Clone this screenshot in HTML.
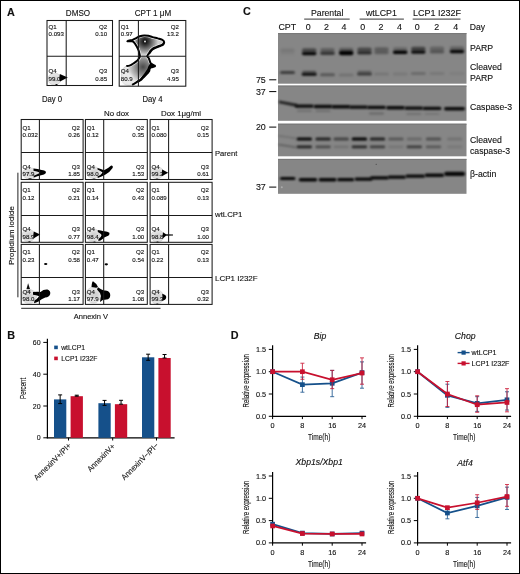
<!DOCTYPE html>
<html><head><meta charset="utf-8"><style>
html,body{margin:0;padding:0;background:#fff;}
svg{display:block;will-change:transform;}
text{font-family:"Liberation Sans", sans-serif;fill:#111;stroke:#111;stroke-width:0.12px;}
</style></head><body>
<svg width="520" height="574" viewBox="0 0 520 574">
<defs><filter id="bl" x="-50%" y="-200%" width="200%" height="500%"><feGaussianBlur stdDeviation="0.85"/></filter><filter id="bl3" x="-50%" y="-200%" width="200%" height="500%"><feGaussianBlur stdDeviation="1.1"/></filter><filter id="bl2" x="-50%" y="-200%" width="200%" height="500%"><feGaussianBlur stdDeviation="0.6"/></filter><filter id="b4" x="-50%" y="-50%" width="200%" height="200%"><feGaussianBlur stdDeviation="0.4"/></filter><filter id="b8" x="-50%" y="-50%" width="200%" height="200%"><feGaussianBlur stdDeviation="1.2"/></filter><radialGradient id="gblob" cx="0.55" cy="0.45" r="0.6"><stop offset="0" stop-color="#d8d8d8"/><stop offset="1" stop-color="#f0f0f0"/></radialGradient><radialGradient id="gup" gradientUnits="userSpaceOnUse" cx="145" cy="41.5" r="13"><stop offset="0" stop-color="#000"/><stop offset="0.35" stop-color="#444"/><stop offset="0.75" stop-color="#999"/><stop offset="1" stop-color="#cfcfcf"/></radialGradient><radialGradient id="glo" gradientUnits="userSpaceOnUse" cx="143" cy="67" r="16"><stop offset="0" stop-color="#4a4a4a"/><stop offset="0.45" stop-color="#8a8a8a"/><stop offset="0.8" stop-color="#c8c8c8"/><stop offset="1" stop-color="#e6e6e6"/></radialGradient></defs>
<rect x="0.5" y="0.5" width="519" height="573" fill="#fff" stroke="#000" stroke-width="1"/>
<text x="7" y="15.5" font-size="10.8" text-anchor="start" font-weight="bold" font-style="normal" stroke="#000" stroke-width="0.55">A</text>
<text transform="translate(78,15.7) scale(0.91,1)" font-size="8.9" text-anchor="middle" >DMSO</text>
<text transform="translate(153,15.7) scale(0.91,1)" font-size="8.9" text-anchor="middle" >CPT 1 μM</text>
<ellipse cx="54.5" cy="79" rx="6.5" ry="6" fill="#e4e4e4" stroke="#c8c8c8" stroke-width="0.6"/>
<ellipse cx="55.5" cy="79" rx="3.575" ry="3.0" fill="#d2d2d2" filter="url(#b8)"/>
<path d="M59.8,74 L67.8,77.4 L60,81.6 Q58.8,77.8 59.8,74 Z" fill="#000" filter="url(#b4)"/>
<path d="M55,84.3 Q56.5,83.5 58,84.3 Q56.5,85.6 55,84.3 Z" fill="#000" filter="url(#b4)"/>
<text x="48.6" y="28.8" font-size="6.1" text-anchor="start" font-weight="normal" font-style="normal" >Q1</text>
<text x="48.6" y="35.8" font-size="6.1" text-anchor="start" font-weight="normal" font-style="normal" >0.093</text>
<text x="107.1" y="28.8" font-size="6.1" text-anchor="end" font-weight="normal" font-style="normal" >Q2</text>
<text x="107.1" y="35.8" font-size="6.1" text-anchor="end" font-weight="normal" font-style="normal" >0.10</text>
<text x="48.6" y="73.3" font-size="6.1" text-anchor="start" font-weight="normal" font-style="normal" >Q4</text>
<text x="48.6" y="80.5" font-size="6.1" text-anchor="start" font-weight="normal" font-style="normal" >99.0</text>
<text x="107.1" y="73.3" font-size="6.1" text-anchor="end" font-weight="normal" font-style="normal" >Q3</text>
<text x="107.1" y="80.5" font-size="6.1" text-anchor="end" font-weight="normal" font-style="normal" >0.85</text>
<rect x="47" y="20.5" width="65.5" height="65.0" fill="none" stroke="#1a1a1a" stroke-width="1.05"/>
<line x1="66.2" y1="20.5" x2="66.2" y2="85.5" stroke="#1a1a1a" stroke-width="1.05"/>
<line x1="47" y1="56.2" x2="112.5" y2="56.2" stroke="#1a1a1a" stroke-width="1.05"/>
<path d="M147.2,56.2 C148.08,56.43 148.35,57.33 148.8,58.2 C149.25,59.07 149.55,60.52 149.9,61.4 C150.25,62.28 150.30,62.90 150.9,63.5 C151.50,64.10 152.80,64.57 153.5,65 C154.20,65.43 155.27,65.75 155.1,66.1 C154.93,66.45 153.28,66.83 152.5,67.1 C151.72,67.37 150.93,67.27 150.4,67.7 C149.87,68.13 149.83,68.83 149.3,69.7 C148.77,70.57 148.07,71.85 147.2,72.9 C146.33,73.95 145.13,74.95 144.1,76 C143.07,77.05 142.05,78.32 141,79.2 C139.95,80.08 138.85,80.62 137.8,81.3 C136.75,81.98 135.65,82.70 134.7,83.3 C133.75,83.90 132.97,84.55 132.1,84.9 C131.23,85.25 130.47,85.40 129.5,85.4 C128.53,85.40 127.27,85.25 126.3,84.9 C125.33,84.55 124.40,84.08 123.7,83.3 C123.00,82.52 122.45,81.77 122.1,80.2 C121.75,78.63 121.42,75.82 121.6,73.9 C121.78,71.98 122.42,70.00 123.2,68.7 C123.98,67.40 125.25,66.62 126.3,66.1 C127.35,65.58 128.45,65.95 129.5,65.6 C130.55,65.25 131.57,64.62 132.6,64 C133.63,63.38 134.73,62.68 135.7,61.9 C136.67,61.12 137.70,60.17 138.4,59.3 C139.10,58.43 139.05,57.12 139.9,56.7 C140.75,56.28 142.28,56.88 143.5,56.8 C144.72,56.72 146.32,55.97 147.2,56.2 Z" fill="url(#glo)"/>
<path d="M127.9,41.0 C128.07,40.77 130.60,40.68 132.6,39.9 C134.60,39.12 137.98,37.05 139.9,36.3 C141.82,35.55 142.70,35.48 144.1,35.4 C145.50,35.32 146.90,35.52 148.3,35.8 C149.70,36.08 150.93,36.67 152.5,37.1 C154.07,37.53 156.13,37.98 157.7,38.4 C159.27,38.82 160.85,39.08 161.9,39.6 C162.95,40.12 163.83,40.75 164,41.5 C164.17,42.25 163.60,43.40 162.9,44.1 C162.20,44.80 161.02,45.17 159.8,45.7 C158.58,46.23 156.82,46.78 155.6,47.3 C154.38,47.82 153.37,48.20 152.5,48.8 C151.63,49.40 151.02,50.12 150.4,50.9 C149.78,51.68 149.33,52.62 148.8,53.5 C148.27,54.38 148.08,55.65 147.2,56.2 C146.32,56.75 144.72,56.72 143.5,56.8 C142.28,56.88 140.58,57.25 139.9,56.7 C139.22,56.15 139.65,54.63 139.4,53.5 C139.15,52.37 138.92,51.20 138.4,49.9 C137.88,48.60 137.10,47.02 136.3,45.7 C135.50,44.38 134.38,42.73 133.6,42 C132.82,41.27 132.55,41.47 131.6,41.3 C130.65,41.13 127.73,41.23 127.9,41.0 Z" fill="url(#gup)"/>
<path d="M127.9,41.0 C128.17,40.87 128.72,40.68 129.5,40.5 C130.28,40.32 131.57,40.25 132.6,39.9 C133.63,39.55 134.48,39.00 135.7,38.4 C136.92,37.80 138.50,36.80 139.9,36.3 C141.30,35.80 142.70,35.48 144.1,35.4 C145.50,35.32 146.90,35.52 148.3,35.8 C149.70,36.08 150.93,36.67 152.5,37.1 C154.07,37.53 156.13,37.98 157.7,38.4 C159.27,38.82 160.85,39.08 161.9,39.6 C162.95,40.12 163.83,40.75 164,41.5 C164.17,42.25 163.60,43.40 162.9,44.1 C162.20,44.80 161.02,45.17 159.8,45.7 C158.58,46.23 156.82,46.78 155.6,47.3 C154.38,47.82 153.37,48.20 152.5,48.8 C151.63,49.40 151.02,50.12 150.4,50.9 C149.78,51.68 149.33,52.62 148.8,53.5 C148.27,54.38 147.20,55.42 147.2,56.2 C147.20,56.98 148.35,57.33 148.8,58.2 C149.25,59.07 149.55,60.52 149.9,61.4 C150.25,62.28 150.30,62.90 150.9,63.5 C151.50,64.10 152.80,64.57 153.5,65 C154.20,65.43 155.27,65.75 155.1,66.1 C154.93,66.45 153.28,66.83 152.5,67.1 C151.72,67.37 150.93,67.27 150.4,67.7 C149.87,68.13 149.83,68.83 149.3,69.7 C148.77,70.57 148.07,71.85 147.2,72.9 C146.33,73.95 145.13,74.95 144.1,76 C143.07,77.05 142.05,78.32 141,79.2 C139.95,80.08 138.85,80.62 137.8,81.3 C136.75,81.98 135.65,82.70 134.7,83.3 C133.75,83.90 132.97,84.55 132.1,84.9 C131.23,85.25 130.47,85.40 129.5,85.4 C128.53,85.40 127.27,85.25 126.3,84.9 C125.33,84.55 124.40,84.08 123.7,83.3 C123.00,82.52 122.45,81.77 122.1,80.2 C121.75,78.63 121.42,75.82 121.6,73.9 C121.78,71.98 122.42,70.00 123.2,68.7 C123.98,67.40 125.25,66.62 126.3,66.1 C127.35,65.58 128.45,65.95 129.5,65.6 C130.55,65.25 131.57,64.62 132.6,64 C133.63,63.38 134.73,62.68 135.7,61.9 C136.67,61.12 137.70,60.17 138.4,59.3 C139.10,58.43 139.73,57.67 139.9,56.7 C140.07,55.73 139.65,54.63 139.4,53.5 C139.15,52.37 138.92,51.20 138.4,49.9 C137.88,48.60 137.10,47.02 136.3,45.7 C135.50,44.38 134.38,42.73 133.6,42 C132.82,41.27 132.55,41.42 131.6,41.3 C130.65,41.18 128.52,41.35 127.9,41.3 C127.28,41.25 127.63,41.13 127.9,41.0 Z" fill="none" stroke="#c4c4c4" stroke-width="0.8"/>
<path d="M126.3,66.1 C126.83,66.02 128.45,65.95 129.5,65.6 C130.55,65.25 131.57,64.62 132.6,64 C133.63,63.38 134.73,62.68 135.7,61.9 C136.67,61.12 137.70,60.17 138.4,59.3 C139.10,58.43 139.73,57.67 139.9,56.7 C140.07,55.73 139.65,54.63 139.4,53.5 C139.15,52.37 138.92,51.20 138.4,49.9 C137.88,48.60 137.10,47.02 136.3,45.7 C135.50,44.38 134.38,42.73 133.6,42 C132.82,41.27 132.55,41.42 131.6,41.3 C130.65,41.18 128.52,41.35 127.9,41.3 C127.28,41.25 127.63,41.13 127.9,41.0 C128.17,40.87 128.72,40.68 129.5,40.5 C130.28,40.32 131.57,40.25 132.6,39.9 C133.63,39.55 134.48,39.00 135.7,38.4 C136.92,37.80 138.50,36.80 139.9,36.3 C141.30,35.80 142.70,35.48 144.1,35.4 C145.50,35.32 146.90,35.52 148.3,35.8 C149.70,36.08 150.93,36.67 152.5,37.1 C154.07,37.53 156.13,37.98 157.7,38.4 C159.27,38.82 160.85,39.08 161.9,39.6 C162.95,40.12 163.83,40.75 164,41.5 C164.17,42.25 163.60,43.40 162.9,44.1 C162.20,44.80 161.02,45.17 159.8,45.7 C158.58,46.23 156.82,46.78 155.6,47.3 C154.38,47.82 153.37,48.20 152.5,48.8 C151.63,49.40 151.02,50.12 150.4,50.9 C149.78,51.68 149.33,52.62 148.8,53.5 C148.27,54.38 147.20,55.42 147.2,56.2 C147.20,56.98 148.35,57.33 148.8,58.2 C149.25,59.07 149.55,60.52 149.9,61.4 C150.25,62.28 150.30,62.90 150.9,63.5 C151.50,64.10 152.80,64.57 153.5,65 C154.20,65.43 155.27,65.75 155.1,66.1 C154.93,66.45 153.28,66.83 152.5,67.1 C151.72,67.37 150.93,67.27 150.4,67.7 C149.87,68.13 149.83,68.83 149.3,69.7 C148.77,70.57 148.07,71.85 147.2,72.9 C146.33,73.95 145.13,74.95 144.1,76 C143.07,77.05 142.05,78.32 141,79.2 C139.95,80.08 138.85,80.62 137.8,81.3 C136.75,81.98 135.65,82.70 134.7,83.3 C133.75,83.90 132.53,84.63 132.1,84.9 " fill="none" stroke="#fff" stroke-width="3.2" stroke-opacity="0.9" filter="url(#b4)"/>
<path d="M126.3,66.1 C126.83,66.02 128.45,65.95 129.5,65.6 C130.55,65.25 131.57,64.62 132.6,64 C133.63,63.38 134.73,62.68 135.7,61.9 C136.67,61.12 137.70,60.17 138.4,59.3 C139.10,58.43 139.73,57.67 139.9,56.7 C140.07,55.73 139.65,54.63 139.4,53.5 C139.15,52.37 138.92,51.20 138.4,49.9 C137.88,48.60 137.10,47.02 136.3,45.7 C135.50,44.38 134.38,42.73 133.6,42 C132.82,41.27 132.55,41.42 131.6,41.3 C130.65,41.18 128.52,41.35 127.9,41.3 C127.28,41.25 127.63,41.13 127.9,41.0 C128.17,40.87 128.72,40.68 129.5,40.5 C130.28,40.32 131.57,40.25 132.6,39.9 C133.63,39.55 134.48,39.00 135.7,38.4 C136.92,37.80 138.50,36.80 139.9,36.3 C141.30,35.80 142.70,35.48 144.1,35.4 C145.50,35.32 146.90,35.52 148.3,35.8 C149.70,36.08 150.93,36.67 152.5,37.1 C154.07,37.53 156.13,37.98 157.7,38.4 C159.27,38.82 160.85,39.08 161.9,39.6 C162.95,40.12 163.83,40.75 164,41.5 C164.17,42.25 163.60,43.40 162.9,44.1 C162.20,44.80 161.02,45.17 159.8,45.7 C158.58,46.23 156.82,46.78 155.6,47.3 C154.38,47.82 153.37,48.20 152.5,48.8 C151.63,49.40 151.02,50.12 150.4,50.9 C149.78,51.68 149.33,52.62 148.8,53.5 C148.27,54.38 147.20,55.42 147.2,56.2 C147.20,56.98 148.35,57.33 148.8,58.2 C149.25,59.07 149.55,60.52 149.9,61.4 C150.25,62.28 150.30,62.90 150.9,63.5 C151.50,64.10 152.80,64.57 153.5,65 C154.20,65.43 155.27,65.75 155.1,66.1 C154.93,66.45 153.28,66.83 152.5,67.1 C151.72,67.37 150.93,67.27 150.4,67.7 C149.87,68.13 149.83,68.83 149.3,69.7 C148.77,70.57 148.07,71.85 147.2,72.9 C146.33,73.95 145.13,74.95 144.1,76 C143.07,77.05 142.05,78.32 141,79.2 C139.95,80.08 138.85,80.62 137.8,81.3 C136.75,81.98 135.65,82.70 134.7,83.3 C133.75,83.90 132.53,84.63 132.1,84.9 " fill="none" stroke="#000" stroke-width="2.0" filter="url(#b4)"/>
<path d="M164.5,42.0 C164.32,42.43 164.10,43.90 163.4,44.6 C162.70,45.30 161.52,45.67 160.3,46.2 C159.08,46.73 157.32,47.28 156.1,47.8 C154.88,48.32 153.87,48.70 153.0,49.3 C152.13,49.90 151.52,50.62 150.9,51.4 C150.28,52.18 149.57,53.57 149.3,54.0 " fill="none" stroke="#000" stroke-width="1.6" filter="url(#b4)"/>
<path d="M149.9,70.10000000000001 C149.55,70.63 148.67,72.25 147.79999999999998,73.30000000000001 C146.93,74.35 145.73,75.35 144.7,76.4 C143.67,77.45 142.65,78.72 141.6,79.60000000000001 C140.55,80.48 138.93,81.35 138.4,81.7 " fill="none" stroke="#000" stroke-width="1.6" filter="url(#b4)"/>
<ellipse cx="127" cy="79" rx="6" ry="6.5" fill="#ececec" opacity="0.8" filter="url(#b8)"/>
<circle cx="145" cy="41.5" r="0.9" fill="#fff"/>
<path d="M150.4,63 Q154,64.5 155.3,66 Q153,67.8 150,68.2 Q148,71 146,74 Q143,77.5 139,80.5 Q142,76 145,72.5 Q148,68.5 148.5,66 Z" fill="#000" filter="url(#b4)"/>
<path d="M126,41.2 Q128,40 131,40.6 L131,41.8 Q128.5,42.2 126,41.2 Z" fill="#000" filter="url(#b4)"/>
<text x="120.8" y="28.5" font-size="6.1" text-anchor="start" font-weight="normal" font-style="normal" >Q1</text>
<text x="120.8" y="35.9" font-size="6.1" text-anchor="start" font-weight="normal" font-style="normal" >0.97</text>
<text x="178.9" y="28.5" font-size="6.1" text-anchor="end" font-weight="normal" font-style="normal" >Q2</text>
<text x="178.9" y="35.9" font-size="6.1" text-anchor="end" font-weight="normal" font-style="normal" >13.2</text>
<text x="120.8" y="73.10000000000001" font-size="6.1" text-anchor="start" font-weight="normal" font-style="normal" >Q4</text>
<text x="120.8" y="80.50000000000001" font-size="6.1" text-anchor="start" font-weight="normal" font-style="normal" >80.9</text>
<text x="178.9" y="73.10000000000001" font-size="6.1" text-anchor="end" font-weight="normal" font-style="normal" >Q3</text>
<text x="178.9" y="80.50000000000001" font-size="6.1" text-anchor="end" font-weight="normal" font-style="normal" >4.95</text>
<rect x="119.2" y="20.5" width="66.60000000000001" height="65.7" fill="none" stroke="#1a1a1a" stroke-width="1.05"/>
<line x1="138.4" y1="20.5" x2="138.4" y2="86.2" stroke="#1a1a1a" stroke-width="1.05"/>
<line x1="119.2" y1="56.2" x2="185.8" y2="56.2" stroke="#1a1a1a" stroke-width="1.05"/>
<text transform="translate(41.9,101.8) scale(0.91,1)" font-size="8.5" text-anchor="start" >Day 0</text>
<text transform="translate(142.5,101.8) scale(0.91,1)" font-size="8.5" text-anchor="start" >Day 4</text>
<text x="116.5" y="115.8" font-size="7.9" text-anchor="middle" font-weight="normal" font-style="normal" >No dox</text>
<text x="181" y="115.8" font-size="7.9" text-anchor="middle" font-weight="normal" font-style="normal" >Dox 1μg/ml</text>
<ellipse cx="30" cy="173.5" rx="7.5" ry="5.5" fill="#e4e4e4" stroke="#c8c8c8" stroke-width="0.6"/>
<ellipse cx="31" cy="173.5" rx="4.125" ry="2.75" fill="#d2d2d2" filter="url(#b8)"/>
<path d="M33.5,168.6 Q38,168.8 41.5,170 Q44.5,169.9 46,171.8 Q46.4,173.6 44,174.4 Q40,175.2 36.5,176.6 Q35,177.3 33.6,177.5 L33.8,175.7 Q37.5,174.3 40.3,172.7 Q37,171.3 33.5,170.7 Z" fill="#000" filter="url(#b4)"/>
<path d="M28,178.7 Q30,177.8 32,178.7 Q30,179.8 28,178.7 Z" fill="#000" filter="url(#b4)"/>
<ellipse cx="93.5" cy="172.5" rx="7" ry="5.8" fill="#e4e4e4" stroke="#c8c8c8" stroke-width="0.6"/>
<ellipse cx="94.5" cy="172.5" rx="3.8500000000000005" ry="2.9" fill="#d2d2d2" filter="url(#b8)"/>
<path d="M97.5,168 Q101,169 104,170.2 Q108,168.5 111.2,165.5 Q113.5,165.8 112.6,168 Q110,172 105.5,174.5 Q101.5,176.5 97.8,178 L97.5,176.6 Q101,175 102.5,172.4 Q100,170.5 97.5,169.5 Z" fill="#000" filter="url(#b4)"/>
<path d="M92,178.9 Q94,178 96,178.9 Q94,180 92,178.9 Z" fill="#000" filter="url(#b4)"/>
<ellipse cx="157" cy="172.7" rx="6.5" ry="6" fill="#e4e4e4" stroke="#c8c8c8" stroke-width="0.6"/>
<ellipse cx="158" cy="172.7" rx="3.575" ry="3.0" fill="#d2d2d2" filter="url(#b8)"/>
<path d="M162.2,169.4 L168.2,172.7 L162.2,176 Q161.4,172.7 162.2,169.4 Z" fill="#000" filter="url(#b4)"/>
<path d="M155.5,179 Q157,178.2 158.5,179 Q157,180 155.5,179 Z" fill="#000" filter="url(#b4)"/>
<ellipse cx="28.5" cy="235.5" rx="6.5" ry="6" fill="#e4e4e4" stroke="#c8c8c8" stroke-width="0.6"/>
<ellipse cx="29.5" cy="235.5" rx="3.575" ry="3.0" fill="#d2d2d2" filter="url(#b8)"/>
<path d="M33.8,231.5 L40.2,234.4 L33.8,238.3 Q32.8,234.8 33.8,231.5 Z" fill="#000" filter="url(#b4)"/>
<path d="M28,241.7 Q29.5,240.9 31,241.7 Q29.5,242.8 28,241.7 Z" fill="#000" filter="url(#b4)"/>
<ellipse cx="93" cy="235" rx="7" ry="6.2" fill="#e4e4e4" stroke="#c8c8c8" stroke-width="0.6"/>
<ellipse cx="94" cy="235" rx="3.8500000000000005" ry="3.1" fill="#d2d2d2" filter="url(#b8)"/>
<path d="M97.8,229.9 Q101,230.2 103.5,231.2 Q107,230.8 109.4,232.8 Q109.9,235.4 107,236.3 Q104.5,237.1 102.6,238.9 Q100.6,240.6 98.3,241.1 L98.5,239.1 Q101,237.5 101.6,235 Q100.3,232.6 97.8,231.9 Z" fill="#000" filter="url(#b4)"/>
<path d="M93,242 Q94.5,241.2 96,242 Q94.5,243 93,242 Z" fill="#000" filter="url(#b4)"/>
<ellipse cx="157.5" cy="236" rx="6.5" ry="6" fill="#e4e4e4" stroke="#c8c8c8" stroke-width="0.6"/>
<ellipse cx="158.5" cy="236" rx="3.575" ry="3.0" fill="#d2d2d2" filter="url(#b8)"/>
<path d="M163,232.2 L166,234.2 L173,234.6 L173,235.4 L166,235.7 L163,238.2 Q162.2,235.2 163,232.2 Z" fill="#000" filter="url(#b4)"/>
<path d="M156,241.9 Q157.5,241.1 159,241.9 Q157.5,242.9 156,241.9 Z" fill="#000" filter="url(#b4)"/>
<ellipse cx="45.7" cy="264" rx="1.7" ry="1.1" fill="#000" filter="url(#b4)"/>
<ellipse cx="106.3" cy="264.3" rx="1.7" ry="1.1" fill="#000" filter="url(#b4)"/>
<ellipse cx="29" cy="296.5" rx="7.5" ry="7" fill="#e4e4e4" stroke="#c8c8c8" stroke-width="0.6"/>
<ellipse cx="30" cy="296.5" rx="4.125" ry="3.5" fill="#d2d2d2" filter="url(#b8)"/>
<path d="M26.5,289 L28.1,283.2 L30,289 Z" fill="#111" filter="url(#b4)"/>
<path d="M27,289.5 L30.5,289.5 L31,293 L26.5,293 Z" fill="#bbb" filter="url(#b4)"/>
<path d="M33,292.1 Q37,291.6 40.5,292 Q43.5,289.3 47.5,289.6 Q50.8,290.8 50.2,294 Q49.2,297.3 45.2,297.6 Q41.5,299.2 38.5,301.6 Q36.2,303 34,303.2 L34.5,300.6 Q37.5,298.6 39.2,296.2 Q36.5,294.9 33,294.8 Z" fill="#000" filter="url(#b4)"/>
<ellipse cx="93.5" cy="295" rx="7.5" ry="8" fill="#e4e4e4" stroke="#c8c8c8" stroke-width="0.6"/>
<ellipse cx="94.5" cy="295" rx="4.125" ry="4.0" fill="#d2d2d2" filter="url(#b8)"/>
<path d="M91.5,287 Q91.8,282 93,281.3 Q96,283 98,287 Q96.5,288 95,287.5 Z" fill="#000" filter="url(#b4)"/>
<path d="M98,287.2 Q101,289.5 104,290.5 Q108.5,290 110,293.5 Q111,297.5 108,299.2 Q105,300 103.5,299.5 Q101,301 100,302 L100.5,298.5 Q101.5,295.5 100,293 Q98.5,291 97,289.5 Z" fill="#000" filter="url(#b4)"/>
<ellipse cx="157" cy="297" rx="6.5" ry="7" fill="#e4e4e4" stroke="#c8c8c8" stroke-width="0.6"/>
<ellipse cx="158" cy="297" rx="3.575" ry="3.5" fill="#d2d2d2" filter="url(#b8)"/>
<path d="M162.2,293.8 Q166.6,295 166.2,297.5 Q165.8,300.2 162.2,300.8 Q162.8,297.3 162.2,293.8 Z" fill="#000" filter="url(#b4)"/>
<path d="M155.8,304 Q157.3,303.2 158.8,304 Q157.3,305 155.8,304 Z" fill="#000" filter="url(#b4)"/>
<text x="22.599999999999998" y="129.5" font-size="6.1" text-anchor="start" font-weight="normal" font-style="normal" >Q1</text>
<text x="22.599999999999998" y="137.0" font-size="6.1" text-anchor="start" font-weight="normal" font-style="normal" >0.032</text>
<text x="80.0" y="129.5" font-size="6.1" text-anchor="end" font-weight="normal" font-style="normal" >Q2</text>
<text x="80.0" y="137.0" font-size="6.1" text-anchor="end" font-weight="normal" font-style="normal" >0.26</text>
<text x="22.599999999999998" y="168.6" font-size="6.1" text-anchor="start" font-weight="normal" font-style="normal" >Q4</text>
<text x="22.599999999999998" y="175.7" font-size="6.1" text-anchor="start" font-weight="normal" font-style="normal" >97.9</text>
<text x="80.0" y="168.6" font-size="6.1" text-anchor="end" font-weight="normal" font-style="normal" >Q3</text>
<text x="80.0" y="175.7" font-size="6.1" text-anchor="end" font-weight="normal" font-style="normal" >1.85</text>
<rect x="21.2" y="119.5" width="61.89999999999999" height="60.0" fill="none" stroke="#1a1a1a" stroke-width="1.05"/>
<line x1="39.4" y1="119.5" x2="39.4" y2="179.5" stroke="#1a1a1a" stroke-width="1.05"/>
<line x1="21.2" y1="152.5" x2="83.1" y2="152.5" stroke="#1a1a1a" stroke-width="1.05"/>
<text x="86.80000000000001" y="129.5" font-size="6.1" text-anchor="start" font-weight="normal" font-style="normal" >Q1</text>
<text x="86.80000000000001" y="137.0" font-size="6.1" text-anchor="start" font-weight="normal" font-style="normal" >0.12</text>
<text x="144.20000000000002" y="129.5" font-size="6.1" text-anchor="end" font-weight="normal" font-style="normal" >Q2</text>
<text x="144.20000000000002" y="137.0" font-size="6.1" text-anchor="end" font-weight="normal" font-style="normal" >0.35</text>
<text x="86.80000000000001" y="168.6" font-size="6.1" text-anchor="start" font-weight="normal" font-style="normal" >Q4</text>
<text x="86.80000000000001" y="175.7" font-size="6.1" text-anchor="start" font-weight="normal" font-style="normal" >98.0</text>
<text x="144.20000000000002" y="168.6" font-size="6.1" text-anchor="end" font-weight="normal" font-style="normal" >Q3</text>
<text x="144.20000000000002" y="175.7" font-size="6.1" text-anchor="end" font-weight="normal" font-style="normal" >1.53</text>
<rect x="85.4" y="119.5" width="61.900000000000006" height="60.0" fill="none" stroke="#1a1a1a" stroke-width="1.05"/>
<line x1="103.7" y1="119.5" x2="103.7" y2="179.5" stroke="#1a1a1a" stroke-width="1.05"/>
<line x1="85.4" y1="152.5" x2="147.3" y2="152.5" stroke="#1a1a1a" stroke-width="1.05"/>
<text x="151.5" y="129.5" font-size="6.1" text-anchor="start" font-weight="normal" font-style="normal" >Q1</text>
<text x="151.5" y="137.0" font-size="6.1" text-anchor="start" font-weight="normal" font-style="normal" >0.080</text>
<text x="209.0" y="129.5" font-size="6.1" text-anchor="end" font-weight="normal" font-style="normal" >Q2</text>
<text x="209.0" y="137.0" font-size="6.1" text-anchor="end" font-weight="normal" font-style="normal" >0.15</text>
<text x="151.5" y="168.6" font-size="6.1" text-anchor="start" font-weight="normal" font-style="normal" >Q4</text>
<text x="151.5" y="175.7" font-size="6.1" text-anchor="start" font-weight="normal" font-style="normal" >99.2</text>
<text x="209.0" y="168.6" font-size="6.1" text-anchor="end" font-weight="normal" font-style="normal" >Q3</text>
<text x="209.0" y="175.7" font-size="6.1" text-anchor="end" font-weight="normal" font-style="normal" >0.61</text>
<rect x="150.1" y="119.5" width="62.0" height="60.0" fill="none" stroke="#1a1a1a" stroke-width="1.05"/>
<line x1="168.6" y1="119.5" x2="168.6" y2="179.5" stroke="#1a1a1a" stroke-width="1.05"/>
<line x1="150.1" y1="152.5" x2="212.1" y2="152.5" stroke="#1a1a1a" stroke-width="1.05"/>
<text x="22.599999999999998" y="192.3" font-size="6.1" text-anchor="start" font-weight="normal" font-style="normal" >Q1</text>
<text x="22.599999999999998" y="199.8" font-size="6.1" text-anchor="start" font-weight="normal" font-style="normal" >0.12</text>
<text x="80.0" y="192.3" font-size="6.1" text-anchor="end" font-weight="normal" font-style="normal" >Q2</text>
<text x="80.0" y="199.8" font-size="6.1" text-anchor="end" font-weight="normal" font-style="normal" >0.21</text>
<text x="22.599999999999998" y="231.4" font-size="6.1" text-anchor="start" font-weight="normal" font-style="normal" >Q4</text>
<text x="22.599999999999998" y="238.5" font-size="6.1" text-anchor="start" font-weight="normal" font-style="normal" >98.9</text>
<text x="80.0" y="231.4" font-size="6.1" text-anchor="end" font-weight="normal" font-style="normal" >Q3</text>
<text x="80.0" y="238.5" font-size="6.1" text-anchor="end" font-weight="normal" font-style="normal" >0.77</text>
<rect x="21.2" y="182.3" width="61.89999999999999" height="60.0" fill="none" stroke="#1a1a1a" stroke-width="1.05"/>
<line x1="39.4" y1="182.3" x2="39.4" y2="242.3" stroke="#1a1a1a" stroke-width="1.05"/>
<line x1="21.2" y1="215.4" x2="83.1" y2="215.4" stroke="#1a1a1a" stroke-width="1.05"/>
<text x="86.80000000000001" y="192.3" font-size="6.1" text-anchor="start" font-weight="normal" font-style="normal" >Q1</text>
<text x="86.80000000000001" y="199.8" font-size="6.1" text-anchor="start" font-weight="normal" font-style="normal" >0.14</text>
<text x="144.20000000000002" y="192.3" font-size="6.1" text-anchor="end" font-weight="normal" font-style="normal" >Q2</text>
<text x="144.20000000000002" y="199.8" font-size="6.1" text-anchor="end" font-weight="normal" font-style="normal" >0.43</text>
<text x="86.80000000000001" y="231.4" font-size="6.1" text-anchor="start" font-weight="normal" font-style="normal" >Q4</text>
<text x="86.80000000000001" y="238.5" font-size="6.1" text-anchor="start" font-weight="normal" font-style="normal" >98.4</text>
<text x="144.20000000000002" y="231.4" font-size="6.1" text-anchor="end" font-weight="normal" font-style="normal" >Q3</text>
<text x="144.20000000000002" y="238.5" font-size="6.1" text-anchor="end" font-weight="normal" font-style="normal" >1.00</text>
<rect x="85.4" y="182.3" width="61.900000000000006" height="60.0" fill="none" stroke="#1a1a1a" stroke-width="1.05"/>
<line x1="103.7" y1="182.3" x2="103.7" y2="242.3" stroke="#1a1a1a" stroke-width="1.05"/>
<line x1="85.4" y1="215.4" x2="147.3" y2="215.4" stroke="#1a1a1a" stroke-width="1.05"/>
<text x="151.5" y="192.3" font-size="6.1" text-anchor="start" font-weight="normal" font-style="normal" >Q1</text>
<text x="151.5" y="199.8" font-size="6.1" text-anchor="start" font-weight="normal" font-style="normal" >0.089</text>
<text x="209.0" y="192.3" font-size="6.1" text-anchor="end" font-weight="normal" font-style="normal" >Q2</text>
<text x="209.0" y="199.8" font-size="6.1" text-anchor="end" font-weight="normal" font-style="normal" >0.13</text>
<text x="151.5" y="231.4" font-size="6.1" text-anchor="start" font-weight="normal" font-style="normal" >Q4</text>
<text x="151.5" y="238.5" font-size="6.1" text-anchor="start" font-weight="normal" font-style="normal" >98.8</text>
<text x="209.0" y="231.4" font-size="6.1" text-anchor="end" font-weight="normal" font-style="normal" >Q3</text>
<text x="209.0" y="238.5" font-size="6.1" text-anchor="end" font-weight="normal" font-style="normal" >1.00</text>
<rect x="150.1" y="182.3" width="62.0" height="60.0" fill="none" stroke="#1a1a1a" stroke-width="1.05"/>
<line x1="168.6" y1="182.3" x2="168.6" y2="242.3" stroke="#1a1a1a" stroke-width="1.05"/>
<line x1="150.1" y1="215.4" x2="212.1" y2="215.4" stroke="#1a1a1a" stroke-width="1.05"/>
<text x="22.599999999999998" y="254.4" font-size="6.1" text-anchor="start" font-weight="normal" font-style="normal" >Q1</text>
<text x="22.599999999999998" y="261.9" font-size="6.1" text-anchor="start" font-weight="normal" font-style="normal" >0.23</text>
<text x="80.0" y="254.4" font-size="6.1" text-anchor="end" font-weight="normal" font-style="normal" >Q2</text>
<text x="80.0" y="261.9" font-size="6.1" text-anchor="end" font-weight="normal" font-style="normal" >0.58</text>
<text x="22.599999999999998" y="293.5" font-size="6.1" text-anchor="start" font-weight="normal" font-style="normal" >Q4</text>
<text x="22.599999999999998" y="300.6" font-size="6.1" text-anchor="start" font-weight="normal" font-style="normal" >98.0</text>
<text x="80.0" y="293.5" font-size="6.1" text-anchor="end" font-weight="normal" font-style="normal" >Q3</text>
<text x="80.0" y="300.6" font-size="6.1" text-anchor="end" font-weight="normal" font-style="normal" >1.17</text>
<rect x="21.2" y="244.4" width="61.89999999999999" height="59.99999999999997" fill="none" stroke="#1a1a1a" stroke-width="1.05"/>
<line x1="39.4" y1="244.4" x2="39.4" y2="304.4" stroke="#1a1a1a" stroke-width="1.05"/>
<line x1="21.2" y1="277.5" x2="83.1" y2="277.5" stroke="#1a1a1a" stroke-width="1.05"/>
<text x="86.80000000000001" y="254.4" font-size="6.1" text-anchor="start" font-weight="normal" font-style="normal" >Q1</text>
<text x="86.80000000000001" y="261.9" font-size="6.1" text-anchor="start" font-weight="normal" font-style="normal" >0.47</text>
<text x="144.20000000000002" y="254.4" font-size="6.1" text-anchor="end" font-weight="normal" font-style="normal" >Q2</text>
<text x="144.20000000000002" y="261.9" font-size="6.1" text-anchor="end" font-weight="normal" font-style="normal" >0.54</text>
<text x="86.80000000000001" y="293.5" font-size="6.1" text-anchor="start" font-weight="normal" font-style="normal" >Q4</text>
<text x="86.80000000000001" y="300.6" font-size="6.1" text-anchor="start" font-weight="normal" font-style="normal" >97.9</text>
<text x="144.20000000000002" y="293.5" font-size="6.1" text-anchor="end" font-weight="normal" font-style="normal" >Q3</text>
<text x="144.20000000000002" y="300.6" font-size="6.1" text-anchor="end" font-weight="normal" font-style="normal" >1.08</text>
<rect x="85.4" y="244.4" width="61.900000000000006" height="59.99999999999997" fill="none" stroke="#1a1a1a" stroke-width="1.05"/>
<line x1="103.7" y1="244.4" x2="103.7" y2="304.4" stroke="#1a1a1a" stroke-width="1.05"/>
<line x1="85.4" y1="277.5" x2="147.3" y2="277.5" stroke="#1a1a1a" stroke-width="1.05"/>
<text x="151.5" y="254.4" font-size="6.1" text-anchor="start" font-weight="normal" font-style="normal" >Q1</text>
<text x="151.5" y="261.9" font-size="6.1" text-anchor="start" font-weight="normal" font-style="normal" >0.22</text>
<text x="209.0" y="254.4" font-size="6.1" text-anchor="end" font-weight="normal" font-style="normal" >Q2</text>
<text x="209.0" y="261.9" font-size="6.1" text-anchor="end" font-weight="normal" font-style="normal" >0.13</text>
<text x="151.5" y="293.5" font-size="6.1" text-anchor="start" font-weight="normal" font-style="normal" >Q4</text>
<text x="151.5" y="300.6" font-size="6.1" text-anchor="start" font-weight="normal" font-style="normal" >99.3</text>
<text x="209.0" y="293.5" font-size="6.1" text-anchor="end" font-weight="normal" font-style="normal" >Q3</text>
<text x="209.0" y="300.6" font-size="6.1" text-anchor="end" font-weight="normal" font-style="normal" >0.32</text>
<rect x="150.1" y="244.4" width="62.0" height="59.99999999999997" fill="none" stroke="#1a1a1a" stroke-width="1.05"/>
<line x1="168.6" y1="244.4" x2="168.6" y2="304.4" stroke="#1a1a1a" stroke-width="1.05"/>
<line x1="150.1" y1="277.5" x2="212.1" y2="277.5" stroke="#1a1a1a" stroke-width="1.05"/>
<text x="215" y="156.2" font-size="7.6" text-anchor="start" font-weight="normal" font-style="normal" >Parent</text>
<text x="215" y="217.2" font-size="7.8" text-anchor="start" font-weight="normal" font-style="normal" >wtLCP1</text>
<text x="215" y="280.6" font-size="8.0" text-anchor="start" font-weight="normal" font-style="normal" >LCP1 I232F</text>
<line x1="17.9" y1="172.7" x2="17.9" y2="297.3" stroke="#222" stroke-width="1"/>
<line x1="21.2" y1="308.3" x2="160.5" y2="308.3" stroke="#222" stroke-width="1"/>
<text transform="translate(14.3,235.5) rotate(-90)" font-size="7.9" text-anchor="middle">Propidium iodide</text>
<text x="73.8" y="318.9" font-size="7.5" text-anchor="start" font-weight="normal" font-style="normal" >Annexin V</text>
<text x="243" y="15.4" font-size="10.8" text-anchor="start" font-weight="bold" font-style="normal" stroke="#000" stroke-width="0.55">C</text>
<text x="327.2" y="15.7" font-size="8.7" text-anchor="middle" font-weight="normal" font-style="normal" >Parental</text>
<text x="381.4" y="15.7" font-size="8.8" text-anchor="middle" font-weight="normal" font-style="normal" >wtLCP1</text>
<text x="437" y="15.7" font-size="9.0" text-anchor="middle" font-weight="normal" font-style="normal" >LCP1 I232F</text>
<line x1="304.2" y1="19.1" x2="349.7" y2="19.1" stroke="#000" stroke-width="0.8"/>
<line x1="359.6" y1="19.1" x2="403.9" y2="19.1" stroke="#000" stroke-width="0.8"/>
<line x1="412.7" y1="19.1" x2="460.5" y2="19.1" stroke="#000" stroke-width="0.8"/>
<text x="287.3" y="29.8" font-size="8.9" text-anchor="middle" font-weight="normal" font-style="normal" >CPT</text>
<text x="308.1" y="30.3" font-size="8.9" text-anchor="middle" font-weight="normal" font-style="normal" >0</text>
<text x="326.4" y="30.3" font-size="8.9" text-anchor="middle" font-weight="normal" font-style="normal" >2</text>
<text x="344" y="30.3" font-size="8.9" text-anchor="middle" font-weight="normal" font-style="normal" >4</text>
<text x="362.8" y="30.3" font-size="8.9" text-anchor="middle" font-weight="normal" font-style="normal" >0</text>
<text x="381" y="30.3" font-size="8.9" text-anchor="middle" font-weight="normal" font-style="normal" >2</text>
<text x="399.5" y="30.3" font-size="8.9" text-anchor="middle" font-weight="normal" font-style="normal" >4</text>
<text x="417.3" y="30.3" font-size="8.9" text-anchor="middle" font-weight="normal" font-style="normal" >0</text>
<text x="436.6" y="30.3" font-size="8.9" text-anchor="middle" font-weight="normal" font-style="normal" >2</text>
<text x="455.8" y="30.3" font-size="8.9" text-anchor="middle" font-weight="normal" font-style="normal" >4</text>
<text x="469.7" y="30.0" font-size="8.6" text-anchor="start" font-weight="normal" font-style="normal" >Day</text>
<rect x="278" y="33.1" width="188.5" height="50.6" fill="#868686"/>
<rect x="278" y="33.1" width="188.5" height="1" fill="#777"/>
<rect x="278" y="85.6" width="188.5" height="35.2" fill="#868686"/>
<rect x="278" y="85.6" width="188.5" height="1" fill="#777"/>
<rect x="278" y="123.7" width="188.5" height="32.60000000000001" fill="#868686"/>
<rect x="278" y="123.7" width="188.5" height="1" fill="#777"/>
<rect x="278" y="158.9" width="188.5" height="34.900000000000006" fill="#868686"/>
<rect x="278" y="158.9" width="188.5" height="1" fill="#777"/>
<rect x="280.25" y="48.40" width="14.50" height="4.20" rx="2.10" fill="#000" fill-opacity="0.1" filter="url(#bl3)"/>
<rect x="280.25" y="52.10" width="14.50" height="3.40" rx="1.70" fill="#000" fill-opacity="0.03" filter="url(#bl)"/>
<rect x="301.95" y="48.15" width="14.50" height="4.20" rx="2.10" fill="#000" fill-opacity="0.45" filter="url(#bl3)"/>
<rect x="301.95" y="51.85" width="14.50" height="3.40" rx="1.70" fill="#000" fill-opacity="0.95" filter="url(#bl)"/>
<rect x="320.25" y="47.90" width="14.50" height="4.20" rx="2.10" fill="#000" fill-opacity="0.28" filter="url(#bl3)"/>
<rect x="320.25" y="51.60" width="14.50" height="3.40" rx="1.70" fill="#000" fill-opacity="0.6" filter="url(#bl)"/>
<rect x="338.95" y="47.65" width="14.50" height="4.20" rx="2.10" fill="#000" fill-opacity="0.3" filter="url(#bl3)"/>
<rect x="338.95" y="50.75" width="14.50" height="4.60" rx="2.30" fill="#000" fill-opacity="1.0" filter="url(#bl)"/>
<rect x="357.25" y="47.40" width="14.50" height="4.20" rx="2.10" fill="#000" fill-opacity="0.45" filter="url(#bl3)"/>
<rect x="357.25" y="51.10" width="14.50" height="3.40" rx="1.70" fill="#000" fill-opacity="0.65" filter="url(#bl)"/>
<rect x="374.25" y="47.15" width="14.50" height="4.20" rx="2.10" fill="#000" fill-opacity="0.3" filter="url(#bl3)"/>
<rect x="374.25" y="50.85" width="14.50" height="3.40" rx="1.70" fill="#000" fill-opacity="0.3" filter="url(#bl)"/>
<rect x="392.95" y="46.90" width="14.50" height="4.20" rx="2.10" fill="#000" fill-opacity="0.2" filter="url(#bl3)"/>
<rect x="392.95" y="50.60" width="14.50" height="3.40" rx="1.70" fill="#000" fill-opacity="1.0" filter="url(#bl)"/>
<rect x="411.05" y="46.65" width="14.50" height="4.20" rx="2.10" fill="#000" fill-opacity="0.5" filter="url(#bl3)"/>
<rect x="411.05" y="50.35" width="14.50" height="3.40" rx="1.70" fill="#000" fill-opacity="0.9" filter="url(#bl)"/>
<rect x="429.75" y="46.40" width="14.50" height="4.20" rx="2.10" fill="#000" fill-opacity="0.25" filter="url(#bl3)"/>
<rect x="429.75" y="50.10" width="14.50" height="3.40" rx="1.70" fill="#000" fill-opacity="0.35" filter="url(#bl)"/>
<rect x="449.75" y="46.15" width="14.50" height="4.20" rx="2.10" fill="#000" fill-opacity="0.25" filter="url(#bl3)"/>
<rect x="449.75" y="49.85" width="14.50" height="3.40" rx="1.70" fill="#000" fill-opacity="0.95" filter="url(#bl)"/>
<rect x="280.00" y="71.10" width="15.00" height="3.00" rx="1.50" fill="#000" fill-opacity="0.55" filter="url(#bl)"/>
<rect x="301.70" y="72.80" width="15.00" height="3.00" rx="1.50" fill="#000" fill-opacity="0.9" filter="url(#bl)"/>
<rect x="302.20" y="70.85" width="14.00" height="2.50" rx="1.25" fill="#000" fill-opacity="0.36000000000000004" filter="url(#bl3)"/>
<rect x="320.00" y="73.30" width="15.00" height="3.00" rx="1.50" fill="#000" fill-opacity="0.35" filter="url(#bl)"/>
<rect x="338.70" y="73.50" width="15.00" height="3.00" rx="1.50" fill="#000" fill-opacity="0.15" filter="url(#bl)"/>
<rect x="357.00" y="72.50" width="15.00" height="3.00" rx="1.50" fill="#000" fill-opacity="0.55" filter="url(#bl)"/>
<rect x="357.50" y="70.55" width="14.00" height="2.50" rx="1.25" fill="#000" fill-opacity="0.22000000000000003" filter="url(#bl3)"/>
<rect x="374.00" y="72.50" width="15.00" height="3.00" rx="1.50" fill="#000" fill-opacity="0.12" filter="url(#bl)"/>
<rect x="392.70" y="72.50" width="15.00" height="3.00" rx="1.50" fill="#000" fill-opacity="0.1" filter="url(#bl)"/>
<rect x="410.80" y="72.00" width="15.00" height="3.00" rx="1.50" fill="#000" fill-opacity="0.2" filter="url(#bl)"/>
<rect x="429.50" y="72.00" width="15.00" height="3.00" rx="1.50" fill="#000" fill-opacity="0.1" filter="url(#bl)"/>
<rect x="449.50" y="72.00" width="15.00" height="3.00" rx="1.50" fill="#000" fill-opacity="0.06" filter="url(#bl)"/>
<path d="M279,100.4 Q287,101.6 297,103.8 L297,107 Q287,105 279,103.2 Z" fill="#000" fill-opacity="0.75" filter="url(#bl)"/>
<rect x="295.00" y="104.40" width="18.80" height="3.40" rx="1.70" fill="#000" fill-opacity="0.92" filter="url(#bl)"/>
<rect x="313.60" y="104.73" width="18.80" height="3.40" rx="1.70" fill="#000" fill-opacity="0.92" filter="url(#bl)"/>
<rect x="331.50" y="105.06" width="18.80" height="3.40" rx="1.70" fill="#000" fill-opacity="0.92" filter="url(#bl)"/>
<rect x="349.10" y="105.39" width="18.80" height="3.40" rx="1.70" fill="#000" fill-opacity="0.92" filter="url(#bl)"/>
<rect x="367.10" y="105.72" width="18.80" height="3.40" rx="1.70" fill="#000" fill-opacity="0.92" filter="url(#bl)"/>
<rect x="386.10" y="106.05" width="18.80" height="3.40" rx="1.70" fill="#000" fill-opacity="0.92" filter="url(#bl)"/>
<rect x="404.40" y="106.38" width="18.80" height="3.40" rx="1.70" fill="#000" fill-opacity="0.92" filter="url(#bl)"/>
<rect x="422.60" y="106.71" width="18.80" height="3.40" rx="1.70" fill="#000" fill-opacity="0.92" filter="url(#bl)"/>
<rect x="444.00" y="107.04" width="21.00" height="3.40" rx="1.70" fill="#000" fill-opacity="0.92" filter="url(#bl)"/>
<rect x="296.90" y="110.00" width="15.00" height="1.80" rx="0.90" fill="#000" fill-opacity="0.2" filter="url(#bl)"/>
<rect x="315.50" y="110.30" width="15.00" height="1.80" rx="0.90" fill="#000" fill-opacity="0.2" filter="url(#bl)"/>
<rect x="369.00" y="112.60" width="15.00" height="1.80" rx="0.90" fill="#000" fill-opacity="0.25" filter="url(#bl)"/>
<rect x="406.30" y="112.90" width="15.00" height="1.80" rx="0.90" fill="#000" fill-opacity="0.2" filter="url(#bl)"/>
<rect x="424.50" y="112.90" width="15.00" height="1.80" rx="0.90" fill="#000" fill-opacity="0.15" filter="url(#bl)"/>
<path d="M278.5,135 Q287,136 296,137.6 L296,139.4 Q287,137.7 278.5,136.8 Z" fill="#000" fill-opacity="0.18" filter="url(#bl)"/>
<path d="M278.5,143.8 Q287,144.8 296,146.4 L296,148.2 Q287,146.6 278.5,145.6 Z" fill="#000" fill-opacity="0.3" filter="url(#bl)"/>
<rect x="296.55" y="137.60" width="15.50" height="3.00" rx="1.50" fill="#000" fill-opacity="0.95" filter="url(#bl)"/>
<rect x="296.55" y="145.50" width="15.50" height="2.80" rx="1.40" fill="#000" fill-opacity="0.75" filter="url(#bl)"/>
<rect x="315.35" y="137.60" width="15.50" height="3.00" rx="1.50" fill="#000" fill-opacity="0.75" filter="url(#bl)"/>
<rect x="315.35" y="145.50" width="15.50" height="2.80" rx="1.40" fill="#000" fill-opacity="0.45" filter="url(#bl)"/>
<rect x="333.45" y="137.60" width="15.50" height="3.00" rx="1.50" fill="#000" fill-opacity="0.5" filter="url(#bl)"/>
<rect x="333.45" y="145.50" width="15.50" height="2.80" rx="1.40" fill="#000" fill-opacity="0.15" filter="url(#bl)"/>
<rect x="351.65" y="137.60" width="15.50" height="3.00" rx="1.50" fill="#000" fill-opacity="1.0" filter="url(#bl)"/>
<rect x="351.65" y="145.50" width="15.50" height="2.80" rx="1.40" fill="#000" fill-opacity="0.7" filter="url(#bl)"/>
<rect x="369.75" y="137.60" width="15.50" height="3.00" rx="1.50" fill="#000" fill-opacity="0.75" filter="url(#bl)"/>
<rect x="369.75" y="145.50" width="15.50" height="2.80" rx="1.40" fill="#000" fill-opacity="0.55" filter="url(#bl)"/>
<rect x="388.25" y="137.60" width="15.50" height="3.00" rx="1.50" fill="#000" fill-opacity="0.35" filter="url(#bl)"/>
<rect x="388.25" y="145.50" width="15.50" height="2.80" rx="1.40" fill="#000" fill-opacity="0.12" filter="url(#bl)"/>
<rect x="406.55" y="137.60" width="15.50" height="3.00" rx="1.50" fill="#000" fill-opacity="0.22" filter="url(#bl)"/>
<rect x="406.55" y="145.50" width="15.50" height="2.80" rx="1.40" fill="#000" fill-opacity="0.55" filter="url(#bl)"/>
<rect x="425.75" y="137.60" width="15.50" height="3.00" rx="1.50" fill="#000" fill-opacity="0.4" filter="url(#bl)"/>
<rect x="425.75" y="145.50" width="15.50" height="2.80" rx="1.40" fill="#000" fill-opacity="0.35" filter="url(#bl)"/>
<rect x="446.95" y="137.60" width="15.50" height="3.00" rx="1.50" fill="#000" fill-opacity="0.15" filter="url(#bl)"/>
<rect x="446.95" y="145.50" width="15.50" height="2.80" rx="1.40" fill="#000" fill-opacity="0.1" filter="url(#bl)"/>
<rect x="279.95" y="177.00" width="15.50" height="3.00" rx="1.50" fill="#000" fill-opacity="0.95" filter="url(#bl)"/>
<rect x="298.75" y="178.00" width="18.50" height="3.40" rx="1.70" fill="#000" fill-opacity="0.95" filter="url(#bl)"/>
<rect x="318.60" y="178.00" width="18.00" height="3.40" rx="1.70" fill="#000" fill-opacity="0.95" filter="url(#bl)"/>
<rect x="337.20" y="178.10" width="17.00" height="3.20" rx="1.60" fill="#000" fill-opacity="0.95" filter="url(#bl)"/>
<rect x="354.50" y="177.50" width="18.00" height="3.20" rx="1.60" fill="#000" fill-opacity="0.95" filter="url(#bl)"/>
<rect x="370.25" y="176.20" width="18.50" height="3.20" rx="1.60" fill="#000" fill-opacity="0.95" filter="url(#bl)"/>
<rect x="387.80" y="175.60" width="18.00" height="3.20" rx="1.60" fill="#000" fill-opacity="0.95" filter="url(#bl)"/>
<rect x="405.45" y="174.60" width="19.50" height="3.20" rx="1.60" fill="#000" fill-opacity="0.95" filter="url(#bl)"/>
<rect x="424.65" y="173.60" width="19.50" height="3.40" rx="1.70" fill="#000" fill-opacity="0.95" filter="url(#bl)"/>
<rect x="444.10" y="171.80" width="21.00" height="4.20" rx="2.10" fill="#000" fill-opacity="0.95" filter="url(#bl)"/>
<circle cx="281.8" cy="187.2" r="1" fill="#aaa" filter="url(#b4)"/>
<circle cx="376.2" cy="164.3" r="0.5" fill="#333"/>
<text x="265.8" y="83.0" font-size="8.9" text-anchor="end" font-weight="normal" font-style="normal" >75</text>
<line x1="269.2" y1="79.8" x2="276.3" y2="79.8" stroke="#000" stroke-width="1"/>
<text x="265.8" y="94.8" font-size="8.9" text-anchor="end" font-weight="normal" font-style="normal" >37</text>
<line x1="269.2" y1="91.6" x2="276.3" y2="91.6" stroke="#000" stroke-width="1"/>
<text x="265.8" y="130.29999999999998" font-size="8.9" text-anchor="end" font-weight="normal" font-style="normal" >20</text>
<line x1="269.2" y1="127.1" x2="276.3" y2="127.1" stroke="#000" stroke-width="1"/>
<text x="265.8" y="190.29999999999998" font-size="8.9" text-anchor="end" font-weight="normal" font-style="normal" >37</text>
<line x1="269.2" y1="187.1" x2="276.3" y2="187.1" stroke="#000" stroke-width="1"/>
<text x="470" y="51" font-size="8.7" text-anchor="start" font-weight="normal" font-style="normal" >PARP</text>
<text x="470" y="70.2" font-size="8.7" text-anchor="start" font-weight="normal" font-style="normal" >Cleaved</text>
<text x="470" y="81.2" font-size="8.7" text-anchor="start" font-weight="normal" font-style="normal" >PARP</text>
<text x="470" y="110.4" font-size="8.7" text-anchor="start" font-weight="normal" font-style="normal" >Caspase-3</text>
<text x="470" y="142.9" font-size="8.7" text-anchor="start" font-weight="normal" font-style="normal" >Cleaved</text>
<text x="470" y="153.5" font-size="8.7" text-anchor="start" font-weight="normal" font-style="normal" >caspase-3</text>
<text x="470" y="176.5" font-size="8.7" text-anchor="start" font-weight="normal" font-style="normal" >β-actin</text>
<text x="7.3" y="338.8" font-size="10.8" text-anchor="start" font-weight="bold" font-style="normal" stroke="#000" stroke-width="0.55">B</text>
<line x1="47.4" y1="338.8" x2="47.4" y2="438.3" stroke="#000" stroke-width="1.2"/>
<line x1="46.8" y1="437.8" x2="174.6" y2="437.8" stroke="#000" stroke-width="1.2"/>
<line x1="43.3" y1="437.8" x2="47.4" y2="437.8" stroke="#000" stroke-width="1"/>
<text x="40.6" y="440.3" font-size="7.0" text-anchor="end" font-weight="normal" font-style="normal" >0</text>
<line x1="43.3" y1="406.0" x2="47.4" y2="406.0" stroke="#000" stroke-width="1"/>
<text x="40.6" y="408.5" font-size="7.0" text-anchor="end" font-weight="normal" font-style="normal" >20</text>
<line x1="43.3" y1="374.2" x2="47.4" y2="374.2" stroke="#000" stroke-width="1"/>
<text x="40.6" y="376.7" font-size="7.0" text-anchor="end" font-weight="normal" font-style="normal" >40</text>
<line x1="43.3" y1="342.4" x2="47.4" y2="342.4" stroke="#000" stroke-width="1"/>
<text x="40.6" y="344.9" font-size="7.0" text-anchor="end" font-weight="normal" font-style="normal" >60</text>
<text transform="translate(26.4,388.4) rotate(-90) scale(0.69,1)" font-size="8.9" text-anchor="middle">Percent</text>
<rect x="54.2" y="345.6" width="3.6" height="3.6" fill="#15508a"/>
<rect x="54.2" y="356.6" width="3.6" height="3.6" fill="#c8102e"/>
<text x="61.2" y="349.9" font-size="6.8" text-anchor="start" font-weight="normal" font-style="normal" >wtLCP1</text>
<text x="61.2" y="360.9" font-size="6.8" text-anchor="start" font-weight="normal" font-style="normal" >LCP1 I232F</text>
<rect x="54" y="399.4" width="12.3" height="38.400000000000034" fill="#15508a"/>
<line x1="60.15" y1="394.9" x2="60.15" y2="403.6" stroke="#000" stroke-width="1"/>
<line x1="58.15" y1="394.9" x2="62.15" y2="394.9" stroke="#000" stroke-width="1"/>
<line x1="58.15" y1="403.6" x2="62.15" y2="403.6" stroke="#000" stroke-width="1"/>
<rect x="70.6" y="396.2" width="12.3" height="41.60000000000002" fill="#c8102e"/>
<line x1="76.75" y1="395.2" x2="76.75" y2="396.2" stroke="#000" stroke-width="1"/>
<line x1="74.75" y1="395.2" x2="78.75" y2="395.2" stroke="#000" stroke-width="1"/>
<line x1="74.75" y1="396.2" x2="78.75" y2="396.2" stroke="#000" stroke-width="1"/>
<rect x="98.4" y="403.2" width="12.3" height="34.60000000000002" fill="#15508a"/>
<line x1="104.55000000000001" y1="400.4" x2="104.55000000000001" y2="405.4" stroke="#000" stroke-width="1"/>
<line x1="102.55000000000001" y1="400.4" x2="106.55000000000001" y2="400.4" stroke="#000" stroke-width="1"/>
<line x1="102.55000000000001" y1="405.4" x2="106.55000000000001" y2="405.4" stroke="#000" stroke-width="1"/>
<rect x="114.9" y="404.2" width="12.3" height="33.60000000000002" fill="#c8102e"/>
<line x1="121.05000000000001" y1="400.3" x2="121.05000000000001" y2="404.2" stroke="#000" stroke-width="1"/>
<line x1="119.05000000000001" y1="400.3" x2="123.05000000000001" y2="400.3" stroke="#000" stroke-width="1"/>
<line x1="119.05000000000001" y1="404.2" x2="123.05000000000001" y2="404.2" stroke="#000" stroke-width="1"/>
<rect x="142" y="357.3" width="12.3" height="80.5" fill="#15508a"/>
<line x1="148.15" y1="354.2" x2="148.15" y2="360.3" stroke="#000" stroke-width="1"/>
<line x1="146.15" y1="354.2" x2="150.15" y2="354.2" stroke="#000" stroke-width="1"/>
<line x1="146.15" y1="360.3" x2="150.15" y2="360.3" stroke="#000" stroke-width="1"/>
<rect x="158.4" y="358" width="12.3" height="79.80000000000001" fill="#c8102e"/>
<line x1="164.55" y1="354.5" x2="164.55" y2="358" stroke="#000" stroke-width="1"/>
<line x1="162.55" y1="354.5" x2="166.55" y2="354.5" stroke="#000" stroke-width="1"/>
<line x1="162.55" y1="358" x2="166.55" y2="358" stroke="#000" stroke-width="1"/>
<line x1="68.5" y1="437.8" x2="68.5" y2="440.5" stroke="#000" stroke-width="1"/>
<line x1="112.7" y1="437.8" x2="112.7" y2="440.5" stroke="#000" stroke-width="1"/>
<line x1="156.5" y1="437.8" x2="156.5" y2="440.5" stroke="#000" stroke-width="1"/>
<text transform="translate(71.6,446.3) rotate(-45) scale(0.93,1)" font-size="7.9" text-anchor="end">AnnexinV+/PI+</text>
<text transform="translate(115.6,447.0) rotate(-45) scale(0.93,1)" font-size="7.9" text-anchor="end">AnnexinV+</text>
<text transform="translate(159.0,446.0) rotate(-45) scale(0.93,1)" font-size="7.9" text-anchor="end">AnnexinV−/PI−</text>
<text x="230.7" y="338.5" font-size="10.8" text-anchor="start" font-weight="bold" font-style="normal" stroke="#000" stroke-width="0.55">D</text>
<line x1="272.6" y1="345.3" x2="272.6" y2="416.8" stroke="#000" stroke-width="1.2"/>
<line x1="272.1" y1="416.3" x2="366.1" y2="416.3" stroke="#000" stroke-width="1.2"/>
<line x1="268.8" y1="416.3" x2="272.6" y2="416.3" stroke="#000" stroke-width="1"/>
<text x="266.20000000000005" y="418.8" font-size="7.3" text-anchor="end" font-weight="normal" font-style="normal" >0.0</text>
<line x1="268.8" y1="394.0" x2="272.6" y2="394.0" stroke="#000" stroke-width="1"/>
<text x="266.20000000000005" y="396.5" font-size="7.3" text-anchor="end" font-weight="normal" font-style="normal" >0.5</text>
<line x1="268.8" y1="371.7" x2="272.6" y2="371.7" stroke="#000" stroke-width="1"/>
<text x="266.20000000000005" y="374.2" font-size="7.3" text-anchor="end" font-weight="normal" font-style="normal" >1.0</text>
<line x1="268.8" y1="349.4" x2="272.6" y2="349.4" stroke="#000" stroke-width="1"/>
<text x="266.20000000000005" y="351.9" font-size="7.3" text-anchor="end" font-weight="normal" font-style="normal" >1.5</text>
<line x1="272.6" y1="416.3" x2="272.6" y2="419.1" stroke="#000" stroke-width="1"/>
<text x="272.6" y="428.1" font-size="7.3" text-anchor="middle" font-weight="normal" font-style="normal" >0</text>
<line x1="302.40000000000003" y1="416.3" x2="302.40000000000003" y2="419.1" stroke="#000" stroke-width="1"/>
<text x="302.40000000000003" y="428.1" font-size="7.3" text-anchor="middle" font-weight="normal" font-style="normal" >8</text>
<line x1="332.20000000000005" y1="416.3" x2="332.20000000000005" y2="419.1" stroke="#000" stroke-width="1"/>
<text x="332.20000000000005" y="428.1" font-size="7.3" text-anchor="middle" font-weight="normal" font-style="normal" >16</text>
<line x1="362.0" y1="416.3" x2="362.0" y2="419.1" stroke="#000" stroke-width="1"/>
<text x="362.0" y="428.1" font-size="7.3" text-anchor="middle" font-weight="normal" font-style="normal" >24</text>
<text transform="translate(319.20000000000005,440.3) scale(0.77,1)" font-size="8.5" text-anchor="middle">Time(h)</text>
<text transform="translate(249.40000000000003,380.8) rotate(-90) scale(0.745,1)" font-size="8.2" text-anchor="middle">Relative expression</text>
<text x="320" y="339.2" font-size="8.7" font-style="italic" text-anchor="middle">Bip</text>
<g stroke="#15508a" stroke-width="0.9" opacity="0.9">
<line x1="302.40000000000003" y1="392.216" x2="302.40000000000003" y2="377.052"/>
<line x1="300.40000000000003" y1="392.216" x2="304.40000000000003" y2="392.216"/>
<line x1="300.40000000000003" y1="377.052" x2="304.40000000000003" y2="377.052"/>
</g>
<g stroke="#15508a" stroke-width="0.9" opacity="0.9">
<line x1="332.20000000000005" y1="396.676" x2="332.20000000000005" y2="370.362"/>
<line x1="330.20000000000005" y1="396.676" x2="334.20000000000005" y2="396.676"/>
<line x1="330.20000000000005" y1="370.362" x2="334.20000000000005" y2="370.362"/>
</g>
<g stroke="#15508a" stroke-width="0.9" opacity="0.9">
<line x1="362.0" y1="388.202" x2="362.0" y2="361.88800000000003"/>
<line x1="360.0" y1="388.202" x2="364.0" y2="388.202"/>
<line x1="360.0" y1="361.88800000000003" x2="364.0" y2="361.88800000000003"/>
</g>
<polyline points="272.60,371.70 302.40,384.63 332.20,383.30 362.00,372.59" fill="none" stroke="#15508a" stroke-width="1.75"/>
<rect x="270.25" y="369.34999999999997" width="4.7" height="4.7" fill="#15508a"/>
<rect x="300.05" y="382.284" width="4.7" height="4.7" fill="#15508a"/>
<rect x="329.85" y="380.94599999999997" width="4.7" height="4.7" fill="#15508a"/>
<rect x="359.65" y="370.24199999999996" width="4.7" height="4.7" fill="#15508a"/>
<g stroke="#c8102e" stroke-width="0.9" opacity="0.9">
<line x1="302.40000000000003" y1="379.28200000000004" x2="302.40000000000003" y2="363.226"/>
<line x1="300.40000000000003" y1="379.28200000000004" x2="304.40000000000003" y2="379.28200000000004"/>
<line x1="300.40000000000003" y1="363.226" x2="304.40000000000003" y2="363.226"/>
</g>
<g stroke="#c8102e" stroke-width="0.9" opacity="0.9">
<line x1="332.20000000000005" y1="388.648" x2="332.20000000000005" y2="370.362"/>
<line x1="330.20000000000005" y1="388.648" x2="334.20000000000005" y2="388.648"/>
<line x1="330.20000000000005" y1="370.362" x2="334.20000000000005" y2="370.362"/>
</g>
<g stroke="#c8102e" stroke-width="0.9" opacity="0.9">
<line x1="362.0" y1="384.188" x2="362.0" y2="357.874"/>
<line x1="360.0" y1="384.188" x2="364.0" y2="384.188"/>
<line x1="360.0" y1="357.874" x2="364.0" y2="357.874"/>
</g>
<polyline points="272.60,371.70 302.40,371.70 332.20,379.73 362.00,373.04" fill="none" stroke="#c8102e" stroke-width="1.75"/>
<rect x="270.25" y="369.34999999999997" width="4.7" height="4.7" fill="#c8102e"/>
<rect x="300.05" y="369.34999999999997" width="4.7" height="4.7" fill="#c8102e"/>
<rect x="329.85" y="377.378" width="4.7" height="4.7" fill="#c8102e"/>
<rect x="359.65" y="370.688" width="4.7" height="4.7" fill="#c8102e"/>
<line x1="417.6" y1="345.3" x2="417.6" y2="416.8" stroke="#000" stroke-width="1.2"/>
<line x1="417.1" y1="416.3" x2="511.1" y2="416.3" stroke="#000" stroke-width="1.2"/>
<line x1="413.8" y1="416.3" x2="417.6" y2="416.3" stroke="#000" stroke-width="1"/>
<text x="411.20000000000005" y="418.8" font-size="7.3" text-anchor="end" font-weight="normal" font-style="normal" >0.0</text>
<line x1="413.8" y1="394.0" x2="417.6" y2="394.0" stroke="#000" stroke-width="1"/>
<text x="411.20000000000005" y="396.5" font-size="7.3" text-anchor="end" font-weight="normal" font-style="normal" >0.5</text>
<line x1="413.8" y1="371.7" x2="417.6" y2="371.7" stroke="#000" stroke-width="1"/>
<text x="411.20000000000005" y="374.2" font-size="7.3" text-anchor="end" font-weight="normal" font-style="normal" >1.0</text>
<line x1="413.8" y1="349.4" x2="417.6" y2="349.4" stroke="#000" stroke-width="1"/>
<text x="411.20000000000005" y="351.9" font-size="7.3" text-anchor="end" font-weight="normal" font-style="normal" >1.5</text>
<line x1="417.6" y1="416.3" x2="417.6" y2="419.1" stroke="#000" stroke-width="1"/>
<text x="417.6" y="428.1" font-size="7.3" text-anchor="middle" font-weight="normal" font-style="normal" >0</text>
<line x1="447.40000000000003" y1="416.3" x2="447.40000000000003" y2="419.1" stroke="#000" stroke-width="1"/>
<text x="447.40000000000003" y="428.1" font-size="7.3" text-anchor="middle" font-weight="normal" font-style="normal" >8</text>
<line x1="477.20000000000005" y1="416.3" x2="477.20000000000005" y2="419.1" stroke="#000" stroke-width="1"/>
<text x="477.20000000000005" y="428.1" font-size="7.3" text-anchor="middle" font-weight="normal" font-style="normal" >16</text>
<line x1="507.0" y1="416.3" x2="507.0" y2="419.1" stroke="#000" stroke-width="1"/>
<text x="507.0" y="428.1" font-size="7.3" text-anchor="middle" font-weight="normal" font-style="normal" >24</text>
<text transform="translate(464.20000000000005,440.3) scale(0.77,1)" font-size="8.5" text-anchor="middle">Time(h)</text>
<text transform="translate(394.40000000000003,380.8) rotate(-90) scale(0.745,1)" font-size="8.2" text-anchor="middle">Relative expression</text>
<text x="465.2" y="339.2" font-size="8.7" font-style="italic" text-anchor="middle">Chop</text>
<g stroke="#15508a" stroke-width="0.9" opacity="0.9">
<line x1="447.40000000000003" y1="407.38" x2="447.40000000000003" y2="384.188"/>
<line x1="445.40000000000003" y1="407.38" x2="449.40000000000003" y2="407.38"/>
<line x1="445.40000000000003" y1="384.188" x2="449.40000000000003" y2="384.188"/>
</g>
<g stroke="#15508a" stroke-width="0.9" opacity="0.9">
<line x1="477.20000000000005" y1="411.394" x2="477.20000000000005" y2="396.676"/>
<line x1="475.20000000000005" y1="411.394" x2="479.20000000000005" y2="411.394"/>
<line x1="475.20000000000005" y1="396.676" x2="479.20000000000005" y2="396.676"/>
</g>
<g stroke="#15508a" stroke-width="0.9" opacity="0.9">
<line x1="507.0" y1="410.056" x2="507.0" y2="391.77"/>
<line x1="505.0" y1="410.056" x2="509.0" y2="410.056"/>
<line x1="505.0" y1="391.77" x2="509.0" y2="391.77"/>
</g>
<polyline points="417.60,371.70 447.40,395.34 477.20,403.37 507.00,399.80" fill="none" stroke="#15508a" stroke-width="1.75"/>
<rect x="415.25" y="369.34999999999997" width="4.7" height="4.7" fill="#15508a"/>
<rect x="445.05" y="392.988" width="4.7" height="4.7" fill="#15508a"/>
<rect x="474.85" y="401.01599999999996" width="4.7" height="4.7" fill="#15508a"/>
<rect x="504.65" y="397.448" width="4.7" height="4.7" fill="#15508a"/>
<g stroke="#c8102e" stroke-width="0.9" opacity="0.9">
<line x1="447.40000000000003" y1="406.488" x2="447.40000000000003" y2="381.512"/>
<line x1="445.40000000000003" y1="406.488" x2="449.40000000000003" y2="406.488"/>
<line x1="445.40000000000003" y1="381.512" x2="449.40000000000003" y2="381.512"/>
</g>
<g stroke="#c8102e" stroke-width="0.9" opacity="0.9">
<line x1="477.20000000000005" y1="412.286" x2="477.20000000000005" y2="395.784"/>
<line x1="475.20000000000005" y1="412.286" x2="479.20000000000005" y2="412.286"/>
<line x1="475.20000000000005" y1="395.784" x2="479.20000000000005" y2="395.784"/>
</g>
<g stroke="#c8102e" stroke-width="0.9" opacity="0.9">
<line x1="507.0" y1="411.84000000000003" x2="507.0" y2="388.648"/>
<line x1="505.0" y1="411.84000000000003" x2="509.0" y2="411.84000000000003"/>
<line x1="505.0" y1="388.648" x2="509.0" y2="388.648"/>
</g>
<polyline points="417.60,371.70 447.40,394.00 477.20,404.70 507.00,402.47" fill="none" stroke="#c8102e" stroke-width="1.75"/>
<rect x="415.25" y="369.34999999999997" width="4.7" height="4.7" fill="#c8102e"/>
<rect x="445.05" y="391.65" width="4.7" height="4.7" fill="#c8102e"/>
<rect x="474.85" y="402.354" width="4.7" height="4.7" fill="#c8102e"/>
<rect x="504.65" y="400.12399999999997" width="4.7" height="4.7" fill="#c8102e"/>
<line x1="457.6" y1="352.6" x2="469.6" y2="352.6" stroke="#15508a" stroke-width="1.4"/>
<rect x="461.5" y="350.5" width="4.2" height="4.2" fill="#15508a"/>
<text x="471.6" y="355.20000000000005" font-size="7.1" text-anchor="start" font-weight="normal" font-style="normal" >wtLCP1</text>
<line x1="457.6" y1="363.40000000000003" x2="469.6" y2="363.40000000000003" stroke="#c8102e" stroke-width="1.4"/>
<rect x="461.5" y="361.3" width="4.2" height="4.2" fill="#c8102e"/>
<text x="471.6" y="366.00000000000006" font-size="7.1" text-anchor="start" font-weight="normal" font-style="normal" >LCP1 I232F</text>
<line x1="272.6" y1="471.9" x2="272.6" y2="543.4" stroke="#000" stroke-width="1.2"/>
<line x1="272.1" y1="542.9" x2="366.1" y2="542.9" stroke="#000" stroke-width="1.2"/>
<line x1="268.8" y1="542.9" x2="272.6" y2="542.9" stroke="#000" stroke-width="1"/>
<text x="266.20000000000005" y="545.4" font-size="7.3" text-anchor="end" font-weight="normal" font-style="normal" >0.0</text>
<line x1="268.8" y1="520.6" x2="272.6" y2="520.6" stroke="#000" stroke-width="1"/>
<text x="266.20000000000005" y="523.1" font-size="7.3" text-anchor="end" font-weight="normal" font-style="normal" >0.5</text>
<line x1="268.8" y1="498.29999999999995" x2="272.6" y2="498.29999999999995" stroke="#000" stroke-width="1"/>
<text x="266.20000000000005" y="500.79999999999995" font-size="7.3" text-anchor="end" font-weight="normal" font-style="normal" >1.0</text>
<line x1="268.8" y1="476.0" x2="272.6" y2="476.0" stroke="#000" stroke-width="1"/>
<text x="266.20000000000005" y="478.5" font-size="7.3" text-anchor="end" font-weight="normal" font-style="normal" >1.5</text>
<line x1="272.6" y1="542.9" x2="272.6" y2="545.6999999999999" stroke="#000" stroke-width="1"/>
<text x="272.6" y="554.6999999999999" font-size="7.3" text-anchor="middle" font-weight="normal" font-style="normal" >0</text>
<line x1="302.40000000000003" y1="542.9" x2="302.40000000000003" y2="545.6999999999999" stroke="#000" stroke-width="1"/>
<text x="302.40000000000003" y="554.6999999999999" font-size="7.3" text-anchor="middle" font-weight="normal" font-style="normal" >8</text>
<line x1="332.20000000000005" y1="542.9" x2="332.20000000000005" y2="545.6999999999999" stroke="#000" stroke-width="1"/>
<text x="332.20000000000005" y="554.6999999999999" font-size="7.3" text-anchor="middle" font-weight="normal" font-style="normal" >16</text>
<line x1="362.0" y1="542.9" x2="362.0" y2="545.6999999999999" stroke="#000" stroke-width="1"/>
<text x="362.0" y="554.6999999999999" font-size="7.3" text-anchor="middle" font-weight="normal" font-style="normal" >24</text>
<text transform="translate(319.20000000000005,566.9) scale(0.77,1)" font-size="8.5" text-anchor="middle">Time(h)</text>
<text transform="translate(249.40000000000003,507.4) rotate(-90) scale(0.745,1)" font-size="8.2" text-anchor="middle">Relative expression</text>
<text x="319.2" y="465.0" font-size="8.7" font-style="italic" text-anchor="middle">Xbp1s/Xbp1</text>
<polyline points="272.60,524.17 302.40,533.09 332.20,533.98 362.00,533.09" fill="none" stroke="#15508a" stroke-width="1.75"/>
<rect x="270.25" y="521.818" width="4.7" height="4.7" fill="#15508a"/>
<rect x="300.05" y="530.7379999999999" width="4.7" height="4.7" fill="#15508a"/>
<rect x="329.85" y="531.63" width="4.7" height="4.7" fill="#15508a"/>
<rect x="359.65" y="530.7379999999999" width="4.7" height="4.7" fill="#15508a"/>
<polyline points="272.60,525.95 302.40,533.53 332.20,533.98 362.00,533.98" fill="none" stroke="#c8102e" stroke-width="1.75"/>
<rect x="270.25" y="523.602" width="4.7" height="4.7" fill="#c8102e"/>
<rect x="300.05" y="531.184" width="4.7" height="4.7" fill="#c8102e"/>
<rect x="329.85" y="531.63" width="4.7" height="4.7" fill="#c8102e"/>
<rect x="359.65" y="531.63" width="4.7" height="4.7" fill="#c8102e"/>
<line x1="417.6" y1="471.9" x2="417.6" y2="543.4" stroke="#000" stroke-width="1.2"/>
<line x1="417.1" y1="542.9" x2="511.1" y2="542.9" stroke="#000" stroke-width="1.2"/>
<line x1="413.8" y1="542.9" x2="417.6" y2="542.9" stroke="#000" stroke-width="1"/>
<text x="411.20000000000005" y="545.4" font-size="7.3" text-anchor="end" font-weight="normal" font-style="normal" >0.0</text>
<line x1="413.8" y1="520.6" x2="417.6" y2="520.6" stroke="#000" stroke-width="1"/>
<text x="411.20000000000005" y="523.1" font-size="7.3" text-anchor="end" font-weight="normal" font-style="normal" >0.5</text>
<line x1="413.8" y1="498.29999999999995" x2="417.6" y2="498.29999999999995" stroke="#000" stroke-width="1"/>
<text x="411.20000000000005" y="500.79999999999995" font-size="7.3" text-anchor="end" font-weight="normal" font-style="normal" >1.0</text>
<line x1="413.8" y1="476.0" x2="417.6" y2="476.0" stroke="#000" stroke-width="1"/>
<text x="411.20000000000005" y="478.5" font-size="7.3" text-anchor="end" font-weight="normal" font-style="normal" >1.5</text>
<line x1="417.6" y1="542.9" x2="417.6" y2="545.6999999999999" stroke="#000" stroke-width="1"/>
<text x="417.6" y="554.6999999999999" font-size="7.3" text-anchor="middle" font-weight="normal" font-style="normal" >0</text>
<line x1="447.40000000000003" y1="542.9" x2="447.40000000000003" y2="545.6999999999999" stroke="#000" stroke-width="1"/>
<text x="447.40000000000003" y="554.6999999999999" font-size="7.3" text-anchor="middle" font-weight="normal" font-style="normal" >8</text>
<line x1="477.20000000000005" y1="542.9" x2="477.20000000000005" y2="545.6999999999999" stroke="#000" stroke-width="1"/>
<text x="477.20000000000005" y="554.6999999999999" font-size="7.3" text-anchor="middle" font-weight="normal" font-style="normal" >16</text>
<line x1="507.0" y1="542.9" x2="507.0" y2="545.6999999999999" stroke="#000" stroke-width="1"/>
<text x="507.0" y="554.6999999999999" font-size="7.3" text-anchor="middle" font-weight="normal" font-style="normal" >24</text>
<text transform="translate(464.20000000000005,566.9) scale(0.77,1)" font-size="8.5" text-anchor="middle">Time(h)</text>
<text transform="translate(394.40000000000003,507.4) rotate(-90) scale(0.745,1)" font-size="8.2" text-anchor="middle">Relative expression</text>
<text x="465" y="466.1" font-size="8.7" font-style="italic" text-anchor="middle">Atf4</text>
<g stroke="#15508a" stroke-width="0.9" opacity="0.9">
<line x1="447.40000000000003" y1="518.816" x2="447.40000000000003" y2="509.45"/>
<line x1="445.40000000000003" y1="518.816" x2="449.40000000000003" y2="518.816"/>
<line x1="445.40000000000003" y1="509.45" x2="449.40000000000003" y2="509.45"/>
</g>
<g stroke="#15508a" stroke-width="0.9" opacity="0.9">
<line x1="477.20000000000005" y1="517.478" x2="477.20000000000005" y2="497.40799999999996"/>
<line x1="475.20000000000005" y1="517.478" x2="479.20000000000005" y2="517.478"/>
<line x1="475.20000000000005" y1="497.40799999999996" x2="479.20000000000005" y2="497.40799999999996"/>
</g>
<g stroke="#15508a" stroke-width="0.9" opacity="0.9">
<line x1="507.0" y1="509.45" x2="507.0" y2="487.15"/>
<line x1="505.0" y1="509.45" x2="509.0" y2="509.45"/>
<line x1="505.0" y1="487.15" x2="509.0" y2="487.15"/>
</g>
<polyline points="417.60,498.30 447.40,513.02 477.20,505.88 507.00,497.41" fill="none" stroke="#15508a" stroke-width="1.75"/>
<rect x="415.25" y="495.94999999999993" width="4.7" height="4.7" fill="#15508a"/>
<rect x="445.05" y="510.668" width="4.7" height="4.7" fill="#15508a"/>
<rect x="474.85" y="503.5319999999999" width="4.7" height="4.7" fill="#15508a"/>
<rect x="504.65" y="495.05799999999994" width="4.7" height="4.7" fill="#15508a"/>
<g stroke="#c8102e" stroke-width="0.9" opacity="0.9">
<line x1="477.20000000000005" y1="509.45" x2="477.20000000000005" y2="494.73199999999997"/>
<line x1="475.20000000000005" y1="509.45" x2="479.20000000000005" y2="509.45"/>
<line x1="475.20000000000005" y1="494.73199999999997" x2="479.20000000000005" y2="494.73199999999997"/>
</g>
<g stroke="#c8102e" stroke-width="0.9" opacity="0.9">
<line x1="507.0" y1="506.328" x2="507.0" y2="484.474"/>
<line x1="505.0" y1="506.328" x2="509.0" y2="506.328"/>
<line x1="505.0" y1="484.474" x2="509.0" y2="484.474"/>
</g>
<polyline points="417.60,498.30 447.40,507.67 477.20,502.76 507.00,496.52" fill="none" stroke="#c8102e" stroke-width="1.75"/>
<rect x="415.25" y="495.94999999999993" width="4.7" height="4.7" fill="#c8102e"/>
<rect x="445.05" y="505.316" width="4.7" height="4.7" fill="#c8102e"/>
<rect x="474.85" y="500.40999999999997" width="4.7" height="4.7" fill="#c8102e"/>
<rect x="504.65" y="494.16599999999994" width="4.7" height="4.7" fill="#c8102e"/>
</svg>
</body></html>
